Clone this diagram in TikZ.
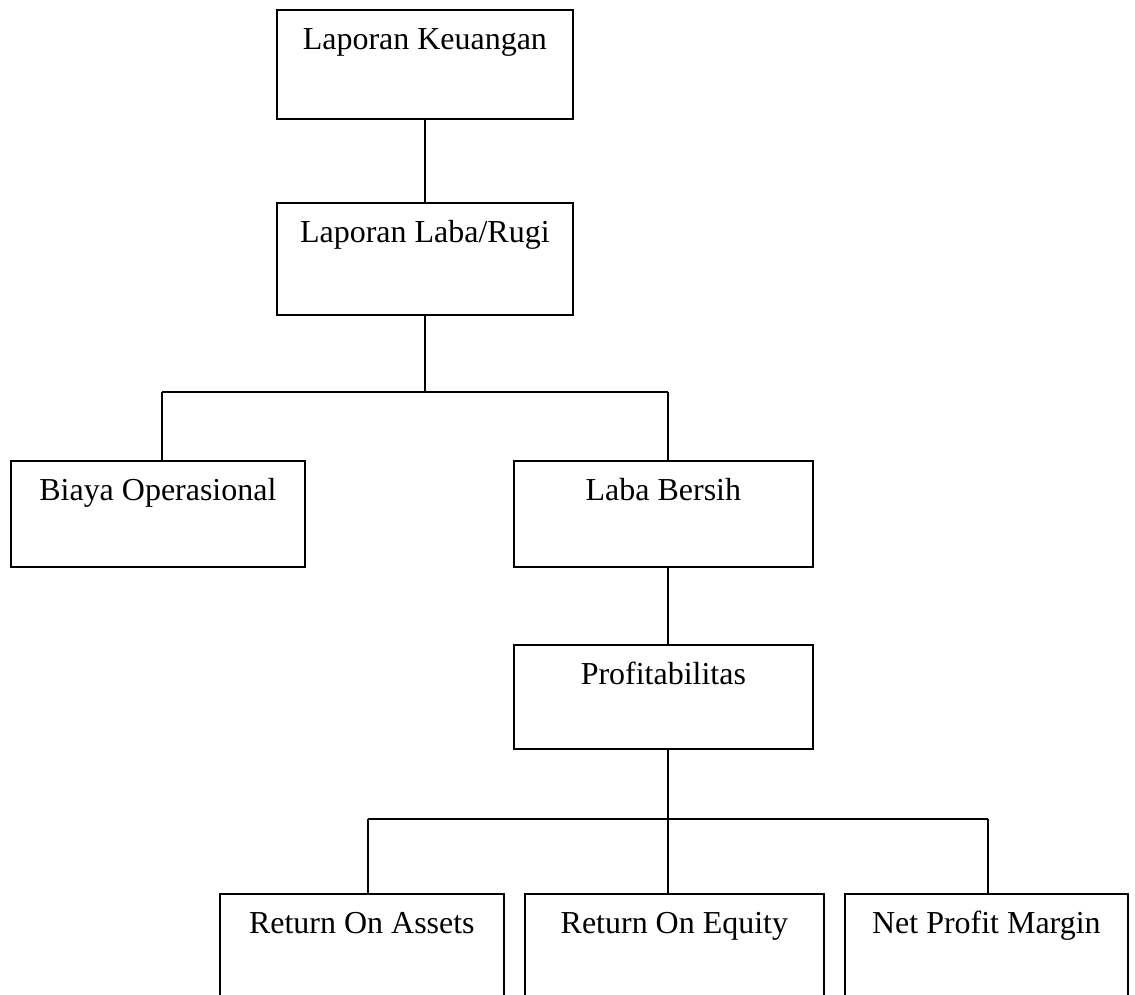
\documentclass[tikz,border=0pt]{standalone}
\usepackage{fontspec}
\setmainfont{Liberation Serif}
\begin{document}
\begin{tikzpicture}[x=0.02cm,y=-0.02cm,
  line width=1pt,
  box/.style={draw, line width=1pt, inner sep=0pt, anchor=north west,
    font=\fontsize{18.2}{22}\selectfont, text height=0.80cm, text depth=#1},
  conn/.style={draw, line width=1pt}]
\useasboundingbox (0,0) rectangle (1135,994);
\node[box=1.38cm, minimum width=296*0.02cm] (A) at (276,9) {Laporan Keuangan};
\node[box=1.44cm, minimum width=296*0.02cm] (B) at (276,202) {Laporan Laba/Rugi};
\node[box=1.32cm, minimum width=294*0.02cm] (C) at (10,460) {Biaya Operasional};
\node[box=1.32cm, minimum width=299*0.02cm] (D) at (513,460) {Laba Bersih};
\node[box=1.28cm, minimum width=299*0.02cm] (E) at (513,644) {Profitabilitas};
\node[box=1.6cm, minimum width=284*0.02cm] (F) at (219,893) {Return On Assets};
\node[box=1.6cm, minimum width=299*0.02cm] (G) at (524,893) {Return On Equity};
\node[box=1.6cm, minimum width=283*0.02cm] (H) at (844,893) {Net Profit Margin};
\coordinate (jl) at (162,392);
\coordinate (jr) at (668,392);
\coordinate (kl) at (368,819);
\coordinate (km) at (668,819);
\coordinate (kr) at (988,819);
\draw[conn] (A.south) -- (B.north);
\draw[conn] (B.south) -- (B.south |- jl);
\draw[conn] (jl) -- (jr);
\draw[conn] (jl) -- (jl |- C.north);
\draw[conn] (jr) -- (jr |- D.north);
\draw[conn] (jr |- D.south) -- (jr |- E.north);
\draw[conn] (km |- E.south) -- (km);
\draw[conn] (kl) -- (kr);
\draw[conn] (kl) -- (kl |- F.north);
\draw[conn] (km) -- (km |- G.north);
\draw[conn] (kr) -- (kr |- H.north);
\end{tikzpicture}
\end{document}
